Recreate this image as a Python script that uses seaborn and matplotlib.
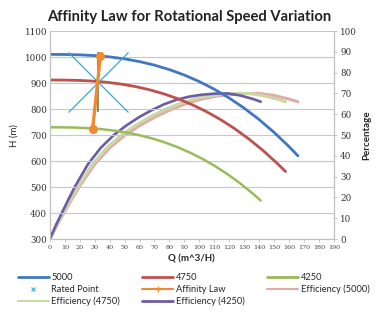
import matplotlib
matplotlib.use("Agg")
import matplotlib.pyplot as plt
import seaborn as sns
import pandas as pd
from matplotlib.lines import Line2D

# ---- data ----
q_5000 = [0, 10, 20, 30, 40, 50, 60, 70, 80, 90, 100, 110, 120, 130, 140, 150, 160, 166]
h_5000 = [1010, 1009.7, 1008.4, 1005.4, 1000.4, 992.8, 982.3, 968.7, 951.5, 930.6,
          905.5, 876.2, 842.3, 803.4, 759.6, 710.4, 655.6, 620]
q_4750 = [0, 9.5, 19, 28.5, 38, 47.5, 57, 66.5, 76, 85.5, 95, 104.5, 114, 123.5,
          133, 142.5, 152, 157.7]
h_4750 = [911.5, 911.2, 910.1, 907.4, 902.9, 896.0, 886.5, 874.3, 858.7, 839.9,
          817.2, 790.8, 760.2, 725.1, 685.5, 641.1, 591.7, 559.6]
q_4250 = [0, 8.5, 17, 25.5, 34, 42.5, 51, 59.5, 68, 76.5, 85, 93.5, 102, 110.5,
          119, 127.5, 136, 141.1]
h_4250 = [729.7, 729.5, 728.6, 726.4, 722.8, 717.3, 709.7, 699.9, 687.5, 672.4,
          654.2, 633.1, 608.6, 580.5, 548.8, 513.3, 473.7, 448.0]

rated_q = [32]
rated_h = [905]
aff_q = [33.7, 32, 28.6]
aff_h = [1003, 905, 724]

eff = [0, 7, 13.3, 19.5, 25.5, 36, 43.8, 49.8, 54.5, 58.5, 61.9, 64.8, 67, 68.5,
       69.4, 69.9, 70, 69, 67.3, 66]
eq_5000 = [0, 5, 10, 15, 20, 30, 40, 50, 60, 70, 80, 90, 100, 110, 120, 130, 140,
           150, 160, 166]
eq_4750 = [0, 4.75, 9.5, 14.25, 19, 28.5, 38, 47.5, 57, 66.5, 76, 85.5, 95, 104.5,
           114, 123.5, 133, 142.5, 152, 157.7]
eq_4250 = [0, 4.25, 8.5, 12.75, 17, 25.5, 34, 42.5, 51, 59.5, 68, 76.5, 85, 93.5,
           102, 110.5, 119, 127.5, 136, 141.1]

x_ticks = list(range(0, 200, 10))
h_ticks = list(range(300, 1200, 100))
p_ticks = list(range(0, 110, 10))

# ---- styling ----
sns.set_style("white")
plt.rcParams["font.family"] = ["Lato", "DejaVu Sans"]

c_blue = "#3f78c0"
c_red = "#c0504d"
c_green = "#9bbb59"
c_teal = "#3fa8c8"
c_orange = "#f08a30"
c_eff5000 = "#dfaca6"
c_eff4750 = "#c9d8a6"
c_eff4250 = "#6b5ca5"
c_grid = "#c8c8c8"

fig = plt.figure(figsize=(3.78, 3.25), dpi=100)
ax = fig.add_axes([0.132, 0.2646, 0.751, 0.64])
ax2 = ax.twinx()

def line(axis, qs, vs, color, lw, label, **kw):
    df = pd.DataFrame({"Q": qs, "V": vs})
    sns.lineplot(data=df, x="Q", y="V", ax=axis, color=color, linewidth=lw,
                 sort=False, estimator=None, label=label, legend=False, **kw)

# efficiency curves (right axis)
line(ax2, eq_5000, eff, c_eff5000, 2.2, "Efficiency (5000)")
line(ax2, eq_4750, eff, c_eff4750, 2.2, "Efficiency (4750)")
line(ax2, eq_4250, eff, c_eff4250, 1.9, "Efficiency (4250)")

# head curves (left axis)
line(ax, q_5000, h_5000, c_blue, 2.0, "5000")
line(ax, q_4750, h_4750, c_red, 2.0, "4750")
line(ax, q_4250, h_4250, c_green, 1.8, "4250")

# rated point: large cross + vertical bar
ax.plot(rated_q, rated_h, linestyle="none", marker="x", markersize=43,
        markeredgewidth=0.9, color=c_teal, zorder=5)
ax.plot(rated_q, rated_h, linestyle="none", marker="|", markersize=43,
        markeredgewidth=1.2, color="#6f7a4a", zorder=5)
# affinity law
aff_df = pd.DataFrame({"Q": aff_q, "H": aff_h})
sns.lineplot(data=aff_df, x="Q", y="H", ax=ax, color=c_orange, linewidth=2.4,
             sort=False, estimator=None, legend=False, zorder=6)
ax.plot([aff_q[0], aff_q[2]], [aff_h[0], aff_h[2]], linestyle="none",
        marker="o", markersize=5.5, color=c_orange, zorder=7)

ax.set_zorder(ax2.get_zorder() + 1)
ax.patch.set_visible(False)

ax.set_xlim(0, 190)
ax.set_ylim(300, 1100)
ax2.set_ylim(0, 100)
ax.set_xticks(x_ticks)
ax.set_yticks(h_ticks)
ax2.set_yticks(p_ticks)

tick_font = dict(family="DejaVu Serif")
ax.set_xticklabels([str(t) for t in x_ticks], fontsize=4.6, color="#444444", **tick_font)
ax.set_yticklabels([str(t) for t in h_ticks], fontsize=6.3, color="#333333", **tick_font)
ax2.set_yticklabels([str(t) for t in p_ticks], fontsize=6.3, color="#333333", **tick_font)

ax.yaxis.grid(True, color=c_grid, linewidth=0.8)
ax.xaxis.grid(False)
for a in (ax, ax2):
    a.spines["top"].set_visible(False)
    for s in ("left", "right", "bottom"):
        a.spines[s].set_color("#bfbfbf")
        a.spines[s].set_linewidth(0.8)
ax.tick_params(axis="both", length=2.5, width=0.6, color="#bfbfbf", pad=2)
ax2.tick_params(axis="y", length=2.5, width=0.6, color="#bfbfbf", pad=2)
ax.tick_params(axis="y", left=True, length=0)
ax.tick_params(axis="x", bottom=True)

ax.set_xlabel("Q (m^3/H)", fontsize=7, fontweight="bold", labelpad=3)
ax.set_ylabel("H (m)", fontsize=7, labelpad=4)
ax2.set_ylabel("Percentage", fontsize=7, fontweight="bold", labelpad=4)

fig.text(0.5, 0.947, "Affinity Law for Rotational Speed Variation",
         ha="center", va="center", fontsize=10.6, fontweight="bold", color="#222222")

# legend (row-major order in 3 columns)
h = {
    "5000": Line2D([], [], color=c_blue, lw=2),
    "4750": Line2D([], [], color=c_red, lw=2),
    "4250": Line2D([], [], color=c_green, lw=2),
    "Rated Point": Line2D([], [], color=c_teal, lw=0, marker="x", markersize=3, markeredgewidth=0.8),
    "Affinity Law": Line2D([], [], color=c_orange, lw=1.5, marker="+", markersize=4),
    "Efficiency (5000)": Line2D([], [], color=c_eff5000, lw=1.5),
    "Efficiency (4750)": Line2D([], [], color=c_eff4750, lw=1.5),
    "Efficiency (4250)": Line2D([], [], color=c_eff4250, lw=2),
}
order = ["5000", "Rated Point", "Efficiency (4750)",
         "4750", "Affinity Law", "Efficiency (4250)",
         "4250", "Efficiency (5000)"]
fig.legend([h[k] for k in order], order, ncol=3, loc="upper left",
           bbox_to_anchor=(0.035, 0.175), frameon=False, fontsize=6.7,
           handlelength=3.3, handletextpad=0.3, columnspacing=2.4,
           labelspacing=0.33, borderpad=0)

fig.savefig("out.png", dpi=100)
